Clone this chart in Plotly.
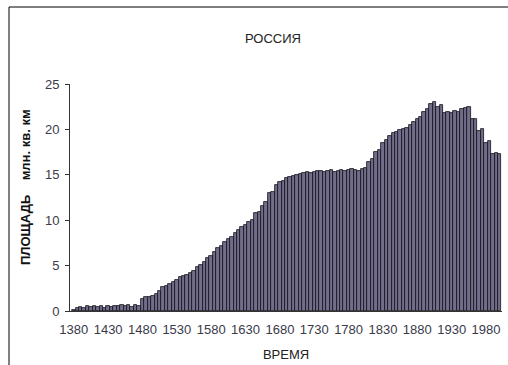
import plotly.graph_objects as go

# Territory of Russia, million sq. km, every 5 years from 1380 to 2000
years = list(range(1380, 2001, 5))
area = [
    0.1, 0.3, 0.4, 0.3, 0.5, 0.4, 0.5, 0.4, 0.5, 0.3,
    0.5, 0.4, 0.6, 0.5, 0.7, 0.6, 0.7, 0.4, 0.7, 0.5,
    1.3, 1.5, 1.5, 1.7, 1.9, 2.2, 2.6, 2.8, 3.0, 3.15,
    3.4, 3.7, 3.85, 4.0, 4.2, 4.45, 4.9, 5.1, 5.4, 5.8,
    6.1, 6.5, 6.9, 7.2, 7.6, 7.95, 8.2, 8.6, 8.9, 9.2,
    9.5, 9.85, 10.0, 10.8, 10.9, 11.6, 12.0, 12.95, 13.1, 13.9,
    14.2, 14.35, 14.6, 14.8, 14.9, 15.0, 15.1, 15.2, 15.3, 15.2,
    15.3, 15.4, 15.4, 15.3, 15.4, 15.5, 15.3, 15.4, 15.5, 15.4,
    15.5, 15.6, 15.5, 15.4, 15.6, 15.7, 16.4, 16.7, 17.5, 17.7,
    18.5, 18.8, 19.3, 19.6, 19.75, 19.9, 20.0, 20.2, 20.5, 20.8,
    21.2, 21.4, 21.95, 22.3, 22.8, 23.05, 22.5, 22.7, 21.8, 21.95,
    21.85, 22.05, 21.9, 22.3, 22.4, 22.5, 21.2, 21.15, 19.85, 20.0,
    18.5, 18.7, 17.3, 17.45, 17.3,
]
tick_years = list(range(1380, 1981, 50))
y_ticks = [0, 5, 10, 15, 20, 25]

W, H = 508, 365
L, R, T, B = 70, 6, 84, 54
pw, ph = W - L - R, H - T - B

fig = go.Figure()
# shaded columns
fig.add_trace(go.Bar(
    x=years, y=area, width=5, offset=-2.5,
    marker=dict(color="#716d8a", line=dict(color="#111118", width=0.8)),
    hoverinfo="x+y", showlegend=False,
))

# chart area frame
fig.add_shape(
    type="rect", xref="paper", yref="paper",
    x0=(9 - L) / pw, x1=(W + 10 - L) / pw,
    y0=-(H + 10 - (T + ph)) / ph, y1=(T + ph - 7) / ph,
    line=dict(color="black", width=1), fillcolor="rgba(0,0,0,0)", layer="above",
)

# vertical axis caption
fig.add_annotation(
    xref="paper", yref="paper",
    x=(25 - L) / pw, y=(T + ph - 187) / ph,
    xanchor="center", yanchor="middle", textangle=-90, showarrow=False,
    text="<b>ПЛОЩАДЬ&nbsp;&nbsp;&nbsp;&nbsp;млн. кв. км</b>",
    font=dict(size=13, color="#111"),
)

fig.update_layout(
    width=W, height=H,
    margin=dict(l=L, r=R, t=T, b=B),
    paper_bgcolor="white", plot_bgcolor="white",
    barmode="overlay", bargap=0,
    font=dict(family="Liberation Sans, Arial, sans-serif", size=13, color="#222"),
    title=dict(text="РОССИЯ", x=(273 / W), xanchor="center", y=1 - 38 / H, yanchor="middle",
               font=dict(size=13, color="#222")),
    xaxis=dict(
        range=[1374.5, 2003.3], tickmode="array", tickvals=tick_years,
        ticktext=[str(v) for v in tick_years], ticks="", showgrid=False,
        showline=True, linecolor="#333", linewidth=1, zeroline=False,
        ticklabelstandoff=6,
        tickfont=dict(size=13, color="#3a3a4a"),
        title=dict(text="ВРЕМЯ", font=dict(size=13, color="#222"), standoff=14),
    ),
    yaxis=dict(
        range=[0, 25], tickmode="array", tickvals=y_ticks, ticks="outside",
        ticklen=4, tickcolor="#333", showgrid=False, showline=True,
        linecolor="#333", linewidth=1, zeroline=False,
        ticklabelstandoff=3,
        tickfont=dict(size=13, color="#3a3a4a"),
    ),
)

fig.write_html("out.html")
